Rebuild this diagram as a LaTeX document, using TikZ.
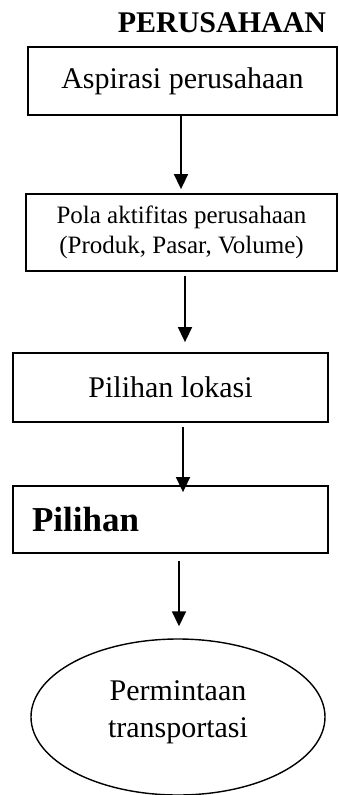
\documentclass[tikz,border=0pt]{standalone}
\usepackage{fontspec}
\setmainfont{Liberation Serif}
\usetikzlibrary{arrows.meta}
\usetikzlibrary{shapes.geometric}

\begin{document}
\begin{tikzpicture}[x=1pt, y=-1pt,
  box/.style={draw, line width=1.8pt, inner sep=0pt, align=center,
    font=\fontsize{30}{34.5}\selectfont},
  flow/.style={-{Triangle[length=15pt,width=14pt]}, line width=1.6pt}]
  \useasboundingbox (0,0) rectangle (338,795);
  % Title
  \node[font=\fontsize{30}{34}\selectfont\bfseries] (title) at (222,23) {PERUSAHAAN};
  % Boxes
  \node[box, minimum width=309pt, minimum height=68pt] (aspirasi) at (182.5,81)
    {Aspirasi perusahaan};
  \node[box, minimum width=311pt, minimum height=77pt,
    font=\fontsize{25}{30}\selectfont] (pola) at (181.5,232.5)
    {Pola aktifitas perusahaan\\(Produk, Pasar, Volume)};
  \node[box, minimum width=315pt, minimum height=69pt] (lokasi) at (170.5,387.5)
    {Pilihan lokasi};
  \node[box, minimum height=67pt, text width=277pt, inner xsep=19pt, align=left,
    font=\fontsize{35}{40}\selectfont\bfseries] (pilihan) at (170.5,519.5)
    {Pilihan};
  % Demand
  \node[draw, ellipse, line width=1.4pt, minimum width=294pt, minimum height=156pt,
    inner sep=0pt, align=center, text depth=16pt,
    font=\fontsize{30}{37}\selectfont] (demand) at (178,717)
    {Permintaan\\transportasi};
  % Arrows
  \draw[flow, shorten >=4pt] ([xshift=-1.5pt]aspirasi.south)
    -- ([xshift=-1.5pt]aspirasi.south |- pola.north);
  \draw[flow, shorten <=4pt, shorten >=10pt] ([xshift=3.5pt]pola.south)
    -- ([xshift=3.5pt]pola.south |- lokasi.north);
  \draw[flow, shorten <=4pt, shorten >=-7pt] ([xshift=12.5pt]lokasi.south)
    -- ([xshift=12.5pt]lokasi.south |- pilihan.north);
  \draw[flow, shorten <=7pt, shorten >=12pt] ([xshift=8.5pt]pilihan.south)
    -- ([xshift=8.5pt]pilihan.south |- demand.north);
\end{tikzpicture}
\end{document}
